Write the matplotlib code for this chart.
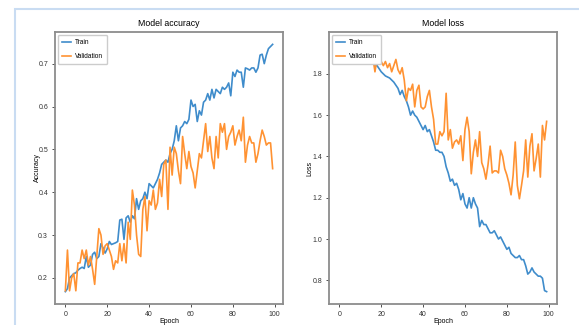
import matplotlib
matplotlib.use("Agg")
import matplotlib.pyplot as plt
from matplotlib.patches import Rectangle

epochs = list(range(100))

train_acc = [0.168, 0.175, 0.200, 0.205, 0.210, 0.212, 0.218, 0.222, 0.225, 0.222,
             0.250, 0.225, 0.230, 0.255, 0.260, 0.245, 0.250, 0.280, 0.270, 0.258,
             0.268, 0.285, 0.278, 0.280, 0.282, 0.285, 0.335, 0.337, 0.290, 0.340,
             0.345, 0.330, 0.345, 0.338, 0.385, 0.360, 0.380, 0.385, 0.400, 0.385,
             0.420, 0.415, 0.410, 0.420, 0.430, 0.445, 0.465, 0.470, 0.475, 0.470,
             0.490, 0.500, 0.520, 0.555, 0.520, 0.550, 0.555, 0.565, 0.560, 0.570,
             0.615, 0.600, 0.605, 0.565, 0.590, 0.580, 0.610, 0.615, 0.630, 0.615,
             0.640, 0.620, 0.640, 0.635, 0.630, 0.645, 0.640, 0.645, 0.655, 0.625,
             0.680, 0.670, 0.685, 0.680, 0.680, 0.645, 0.690, 0.688, 0.685, 0.690,
             0.690, 0.680, 0.690, 0.720, 0.722, 0.700, 0.720, 0.735, 0.740, 0.745]

val_acc = [0.170, 0.265, 0.170, 0.200, 0.210, 0.170, 0.235, 0.235, 0.265, 0.245,
           0.265, 0.230, 0.250, 0.220, 0.185, 0.250, 0.315, 0.300, 0.255, 0.275,
           0.280, 0.265, 0.250, 0.220, 0.240, 0.235, 0.280, 0.240, 0.280, 0.235,
           0.330, 0.290, 0.405, 0.370, 0.300, 0.255, 0.250, 0.360, 0.390, 0.310,
           0.380, 0.370, 0.405, 0.360, 0.375, 0.430, 0.390, 0.465, 0.475, 0.360,
           0.505, 0.440, 0.505, 0.490, 0.450, 0.420, 0.530, 0.490, 0.455, 0.495,
           0.460, 0.445, 0.410, 0.450, 0.490, 0.480, 0.520, 0.560, 0.495, 0.530,
           0.480, 0.455, 0.530, 0.480, 0.560, 0.540, 0.560, 0.500, 0.530, 0.540,
           0.555, 0.510, 0.530, 0.545, 0.520, 0.575, 0.470, 0.510, 0.530, 0.515,
           0.515, 0.470, 0.490, 0.520, 0.545, 0.530, 0.510, 0.515, 0.515, 0.455]

train_loss = [1.943, 1.936, 1.930, 1.925, 1.920, 1.915, 1.910, 1.905, 1.900, 1.895,
              1.890, 1.886, 1.882, 1.878, 1.874, 1.870, 1.866, 1.838, 1.840, 1.825,
              1.810, 1.800, 1.790, 1.785, 1.780, 1.770, 1.760, 1.745, 1.730, 1.700,
              1.720, 1.690, 1.670, 1.640, 1.600, 1.620, 1.600, 1.590, 1.570, 1.550,
              1.530, 1.550, 1.520, 1.530, 1.500, 1.470, 1.430, 1.430, 1.420, 1.420,
              1.400, 1.350, 1.320, 1.280, 1.290, 1.260, 1.270, 1.240, 1.190, 1.220,
              1.170, 1.150, 1.200, 1.150, 1.200, 1.170, 1.150, 1.060, 1.090, 1.070,
              1.070, 1.050, 1.030, 1.030, 1.040, 1.020, 1.000, 1.010, 0.990, 0.970,
              0.950, 0.960, 0.930, 0.920, 0.910, 0.910, 0.920, 0.900, 0.900, 0.870,
              0.830, 0.840, 0.860, 0.840, 0.830, 0.820, 0.820, 0.810, 0.750, 0.745]

val_loss = [1.930, 1.910, 1.920, 1.900, 1.910, 1.895, 1.905, 1.890, 1.900, 1.885,
            1.895, 1.880, 1.890, 1.878, 1.885, 1.875, 1.880, 1.810, 1.876, 1.850,
            1.860, 1.840, 1.860, 1.830, 1.850, 1.810, 1.840, 1.870, 1.820, 1.800,
            1.830, 1.770, 1.670, 1.730, 1.720, 1.750, 1.640, 1.720, 1.745, 1.640,
            1.630, 1.640, 1.690, 1.720, 1.640, 1.580, 1.460, 1.460, 1.520, 1.500,
            1.520, 1.706, 1.480, 1.530, 1.440, 1.470, 1.480, 1.460, 1.500, 1.380,
            1.530, 1.590, 1.520, 1.316, 1.420, 1.480, 1.400, 1.520, 1.370, 1.340,
            1.290, 1.360, 1.450, 1.320, 1.330, 1.330, 1.320, 1.430, 1.400, 1.340,
            1.310, 1.270, 1.214, 1.310, 1.470, 1.260, 1.195, 1.260, 1.330, 1.480,
            1.300, 1.450, 1.510, 1.330, 1.390, 1.460, 1.300, 1.550, 1.480, 1.570]

W, H = 579, 325
fig = plt.figure(figsize=(W / 100, H / 100), dpi=100)
fig.patch.set_facecolor("white")

# light blue frame of the screenshot
fig.patches.append(Rectangle((15 / W, -0.05), 1.1, 1 - 9 / H + 0.05,
                             transform=fig.transFigure, fill=False,
                             edgecolor="#c9dcf2", linewidth=1.5))

fam = ["Liberation Sans", "DejaVu Sans"]
blue = "#3f8ccb"
orange = "#ff9232"
spine_c = "#8c8c8c"
fs = 5.0

def style(ax):
    for s in ax.spines.values():
        s.set_color(spine_c)
        s.set_linewidth(1.3)
    ax.tick_params(colors="#333333", labelsize=fs, length=2.5, width=0.6, pad=2.5)
    for lab in ax.get_xticklabels() + ax.get_yticklabels():
        lab.set_family(fam)

def legend(ax):
    ax.legend(loc="upper left", prop={"family": fam, "size": 4.7},
              handlelength=1.4, handletextpad=0.6, labelspacing=1.05,
              borderpad=0.65, borderaxespad=0.45, framealpha=1.0)

ax1 = fig.add_axes([55 / W, 1 - 304 / H, 228 / W, 272 / H])
ax1.plot(epochs, train_acc, color=blue, lw=1.2, label="Train")
ax1.plot(epochs, val_acc, color=orange, lw=1.2, label="Validation")
ax1.set_title("Model accuracy", fontsize=6.3, family=fam, pad=4)
ax1.set_ylabel("Accuracy", fontsize=fs, family=fam)
ax1.set_xlabel("Epoch", fontsize=fs, family=fam)
ax1.set_yticks([0.2, 0.3, 0.4, 0.5, 0.6, 0.7])
ax1.set_xticks([0, 20, 40, 60, 80, 100])
legend(ax1)
style(ax1)
ax1.yaxis.set_label_coords(-0.06, 0.5)
ax1.xaxis.set_label_coords(0.5, -0.05)

ax2 = fig.add_axes([329 / W, 1 - 304 / H, 228 / W, 272 / H])
ax2.plot(epochs, train_loss, color=blue, lw=1.2, label="Train")
ax2.plot(epochs, val_loss, color=orange, lw=1.2, label="Validation")
ax2.set_title("Model loss", fontsize=6.3, family=fam, pad=4)
ax2.set_ylabel("Loss", fontsize=fs, family=fam)
ax2.set_xlabel("Epoch", fontsize=fs, family=fam)
ax2.set_yticks([0.8, 1.0, 1.2, 1.4, 1.6, 1.8])
ax2.set_xticks([0, 20, 40, 60, 80, 100])
legend(ax2)
style(ax2)
ax2.yaxis.set_label_coords(-0.07, 0.5)
ax2.xaxis.set_label_coords(0.5, -0.05)

fig.savefig("out.png", dpi=100, facecolor="white")
